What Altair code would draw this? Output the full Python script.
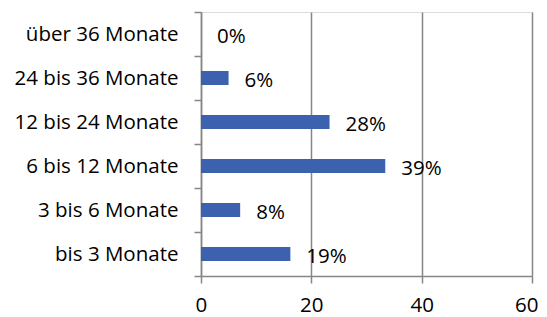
import altair as alt
import pandas as pd

categories = ["über 36 Monate", "24 bis 36 Monate", "12 bis 24 Monate",
              "6 bis 12 Monate", "3 bis 6 Monate", "bis 3 Monate"]
values = [0, 5, 23.3, 33.4, 7.1, 16.2]
labels = ["0%", "6%", "28%", "39%", "8%", "19%"]

df = pd.DataFrame({"cat": categories, "val": values, "lab": labels})

FONT = "Open Sans"
FS = 20.5
GRID = "#868686"

y = alt.Y("cat:N", sort=categories, title=None,
          scale=alt.Scale(paddingInner=0, paddingOuter=0),
          axis=alt.Axis(labelFont=FONT, labelFontSize=FS, labelColor="#000",
                        domainColor=GRID, tickColor=GRID, tickSize=7,
                        domainWidth=1.5, tickWidth=1.5,
                        tickBand="extent", labelPadding=16, grid=False))
x = alt.X("val:Q", title=None,
          scale=alt.Scale(domain=[0, 60], nice=False),
          axis=alt.Axis(values=[0, 20, 40, 60], labelFont=FONT, labelFontSize=FS,
                        labelColor="#000", domainColor=GRID, tickColor=GRID,
                        domainWidth=1.5, tickWidth=1.5, labelFlush=True,
                        labelFlushOffset=6, labelOverlap=False,
                        tickSize=7, gridColor=GRID, grid=True, labelPadding=12,
                        gridWidth=1.5))

bars = alt.Chart(df).mark_bar(color="#3C61AE", size=14).encode(x=x, y=y)
text = alt.Chart(df).mark_text(align="left", baseline="middle", dx=16, dy=3,
                               font=FONT, fontSize=FS, color="#000").encode(
    x="val:Q", y=alt.Y("cat:N", sort=categories), text="lab:N")

chart = (bars + text).properties(
    width=331, height=264,
    autosize=alt.AutoSizeParams(type="none"),
    padding={"left": 193, "top": 4, "right": 7, "bottom": 38},
).configure_view(stroke=None).configure(background="white")

chart.save("out.html", embed_options={"renderer": "svg", "actions": False})
